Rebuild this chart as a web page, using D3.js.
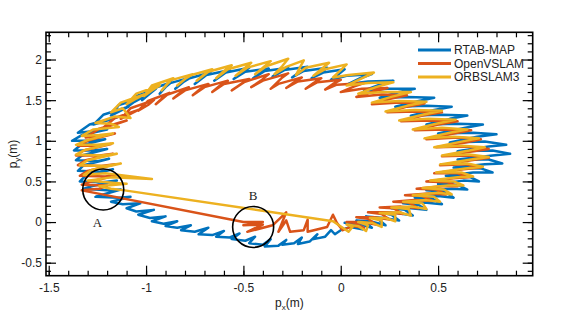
<!DOCTYPE html>
<html>
<head>
<meta charset="utf-8">
<script src="https://cdn.jsdelivr.net/npm/d3@7"></script>
<style>
  body { margin: 0; background: #fff; }
  text { font-family: "Liberation Sans", Arial, sans-serif; }
</style>
</head>
<body>
<div id="chart-container"></div>
<script>
// series names, in legend order
const seriesNames = ['RTAB-MAP', 'OpenVSLAM', 'ORBSLAM3']

// trajectories [px, py] in metres
const rtabmap = [
  [0.00,-0.10],[0.05,-0.06],[0.11,-0.09],[0.07,-0.03],[0.02,-0.01],[0.09,-0.02],[0.16,-0.07],[0.13,-0.01],
  [0.08,0.02],[0.15,0.01],[0.23,-0.04],[0.19,0.04],[0.13,0.07],[0.22,0.05],[0.30,0.02],[0.26,0.09],
  [0.20,0.12],[0.29,0.11],[0.37,0.08],[0.33,0.15],[0.26,0.17],[0.36,0.17],[0.44,0.15],[0.40,0.21],
  [0.32,0.23],[0.43,0.24],[0.52,0.22],[0.47,0.29],[0.38,0.30],[0.50,0.32],[0.58,0.30],[0.54,0.37],
  [0.44,0.39],[0.57,0.41],[0.65,0.40],[0.60,0.46],[0.50,0.47],[0.63,0.51],[0.71,0.50],[0.66,0.56],
  [0.54,0.57],[0.68,0.61],[0.78,0.61],[0.72,0.66],[0.58,0.67],[0.74,0.71],[0.83,0.72],[0.76,0.77],
  [0.60,0.77],[0.78,0.82],[0.87,0.84],[0.78,0.88],[0.60,0.87],[0.76,0.93],[0.85,0.95],[0.74,0.99],
  [0.56,0.98],[0.70,1.05],[0.80,1.08],[0.68,1.10],[0.50,1.09],[0.64,1.16],[0.73,1.20],[0.60,1.21],
  [0.44,1.20],[0.56,1.27],[0.65,1.31],[0.52,1.32],[0.36,1.31],[0.48,1.38],[0.57,1.42],[0.44,1.43],
  [0.28,1.42],[0.40,1.49],[0.48,1.53],[0.34,1.54],[0.20,1.53],[0.30,1.60],[0.38,1.64],[0.24,1.64],
  [0.12,1.62],[0.20,1.69],[0.27,1.74],[0.14,1.73],[0.04,1.70],[0.10,1.77],[0.16,1.82],[0.03,1.80],
  [-0.05,1.75],[-0.01,1.82],[0.02,1.88],[-0.09,1.84],[-0.15,1.77],[-0.10,1.84],[-0.07,1.90],[-0.19,1.86],
  [-0.25,1.78],[-0.21,1.85],[-0.17,1.91],[-0.29,1.87],[-0.35,1.79],[-0.31,1.86],[-0.27,1.90],[-0.39,1.86],
  [-0.45,1.77],[-0.41,1.84],[-0.37,1.89],[-0.49,1.85],[-0.55,1.76],[-0.51,1.83],[-0.47,1.90],[-0.59,1.84],
  [-0.65,1.74],[-0.61,1.81],[-0.57,1.87],[-0.69,1.81],[-0.75,1.70],[-0.71,1.78],[-0.67,1.84],[-0.79,1.76],
  [-0.85,1.64],[-0.81,1.72],[-0.77,1.78],[-0.89,1.70],[-0.93,1.58],[-0.90,1.66],[-0.87,1.72],[-0.98,1.63],
  [-1.02,1.50],[-0.98,1.58],[-0.95,1.64],[-1.06,1.54],[-1.10,1.41],[-1.06,1.48],[-1.02,1.53],[-1.14,1.44],
  [-1.18,1.31],[-1.13,1.37],[-1.09,1.42],[-1.22,1.32],[-1.27,1.20],[-1.20,1.25],[-1.15,1.29],[-1.29,1.20],
  [-1.35,1.10],[-1.26,1.12],[-1.20,1.14],[-1.33,1.07],[-1.38,1.00],[-1.28,1.00],[-1.21,1.02],[-1.34,0.94],
  [-1.37,0.88],[-1.27,0.88],[-1.20,0.90],[-1.33,0.82],[-1.36,0.76],[-1.25,0.75],[-1.19,0.78],[-1.32,0.70],
  [-1.35,0.63],[-1.24,0.62],[-1.17,0.65],[-1.31,0.57],[-1.34,0.50],[-1.22,0.49],[-1.15,0.51],[-1.28,0.44],
  [-1.32,0.41],[-1.20,0.39],[-1.13,0.40],[-1.22,0.34],[-1.26,0.31],[-1.14,0.30],[-1.08,0.31],[-1.18,0.25],
  [-1.12,0.22],[-1.03,0.23],[-1.10,0.17],[-1.05,0.13],[-0.96,0.15],[-1.04,0.09],[-0.98,0.05],[-0.90,0.07],
  [-0.97,0.01],[-0.91,-0.02],[-0.84,0.01],[-0.90,-0.05],[-0.84,-0.07],[-0.77,-0.04],[-0.82,-0.10],[-0.75,-0.12],
  [-0.68,-0.07],[-0.73,-0.15],[-0.66,-0.16],[-0.60,-0.11],[-0.64,-0.18],[-0.57,-0.19],[-0.52,-0.14],[-0.56,-0.21],
  [-0.49,-0.23],[-0.44,-0.18],[-0.47,-0.26],[-0.40,-0.28],[-0.36,-0.21],[-0.39,-0.30],[-0.32,-0.29],[-0.28,-0.22],
  [-0.30,-0.28],[-0.24,-0.26],[-0.20,-0.19],[-0.22,-0.27],[-0.16,-0.24],[-0.12,-0.15],[-0.14,-0.21],[-0.08,-0.18],
  [-0.05,-0.10],[-0.03,-0.15],[0.00,-0.10]
]

const openvslam = [
  [0.01,-0.10],[0.06,-0.05],[0.12,-0.07],[0.07,-0.01],[0.03,0.00],[0.11,0.00],[0.18,-0.03],[0.14,0.04],
  [0.08,0.06],[0.17,0.06],[0.25,0.03],[0.21,0.10],[0.14,0.12],[0.24,0.12],[0.32,0.10],[0.27,0.17],
  [0.20,0.18],[0.31,0.19],[0.40,0.17],[0.35,0.24],[0.27,0.25],[0.38,0.27],[0.47,0.26],[0.42,0.32],
  [0.33,0.33],[0.45,0.35],[0.54,0.34],[0.49,0.40],[0.39,0.41],[0.52,0.44],[0.60,0.44],[0.55,0.49],
  [0.44,0.50],[0.58,0.54],[0.66,0.55],[0.60,0.60],[0.48,0.60],[0.63,0.65],[0.72,0.67],[0.64,0.71],
  [0.51,0.70],[0.67,0.76],[0.76,0.79],[0.66,0.82],[0.52,0.81],[0.68,0.87],[0.76,0.90],[0.64,0.93],
  [0.49,0.92],[0.64,0.98],[0.72,1.02],[0.60,1.04],[0.44,1.02],[0.58,1.09],[0.67,1.13],[0.54,1.14],
  [0.38,1.13],[0.50,1.20],[0.60,1.24],[0.46,1.25],[0.31,1.24],[0.42,1.31],[0.52,1.35],[0.38,1.36],
  [0.24,1.35],[0.34,1.42],[0.43,1.46],[0.30,1.47],[0.16,1.45],[0.26,1.52],[0.34,1.56],[0.21,1.57],
  [0.08,1.54],[0.17,1.61],[0.24,1.65],[0.11,1.64],[0.00,1.60],[0.07,1.67],[0.12,1.71],[-0.02,1.69],
  [-0.08,1.63],[-0.04,1.70],[0.00,1.75],[-0.12,1.72],[-0.18,1.64],[-0.14,1.71],[-0.10,1.77],[-0.22,1.73],
  [-0.28,1.65],[-0.24,1.72],[-0.20,1.78],[-0.32,1.70],[-0.36,1.64],[-0.30,1.78],[-0.27,1.83],[-0.40,1.74],
  [-0.46,1.66],[-0.41,1.74],[-0.37,1.82],[-0.50,1.72],[-0.56,1.62],[-0.51,1.70],[-0.47,1.76],[-0.60,1.70],
  [-0.66,1.60],[-0.62,1.68],[-0.58,1.74],[-0.70,1.66],[-0.76,1.56],[-0.72,1.64],[-0.68,1.70],[-0.80,1.62],
  [-0.86,1.52],[-0.82,1.60],[-0.78,1.66],[-0.90,1.56],[-0.95,1.45],[-0.91,1.53],[-0.88,1.59],[-0.99,1.49],
  [-1.04,1.37],[-0.99,1.44],[-0.96,1.50],[-1.08,1.40],[-1.13,1.27],[-1.08,1.33],[-1.04,1.38],[-1.16,1.28],
  [-1.22,1.16],[-1.15,1.21],[-1.10,1.25],[-1.24,1.15],[-1.31,1.04],[-1.22,1.06],[-1.16,1.09],[-1.29,1.01],
  [-1.35,0.94],[-1.25,0.94],[-1.18,0.96],[-1.32,0.88],[-1.36,0.82],[-1.24,0.82],[-1.17,0.84],[-1.31,0.76],
  [-1.35,0.70],[-1.23,0.69],[-1.16,0.71],[-1.30,0.63],[-1.34,0.57],[-1.21,0.56],[-1.15,0.58],[-1.28,0.50],
  [-1.33,0.46],[-1.20,0.45],[-1.24,0.41],[-1.33,0.39],
  [-0.50,0.00],[-0.40,0.00],[-0.50,-0.04],[-0.40,-0.03],[-0.48,-0.12],[-0.35,-0.04],[-0.28,0.12],[-0.32,-0.12],
  [-0.28,0.02],[-0.26,-0.12],[-0.19,-0.10],[-0.17,0.03],[-0.17,-0.12],[-0.07,-0.06],[-0.04,0.09],[-0.02,-0.01],
  [0.01,-0.10]
]

const orbslam3 = [
  [-0.04,0.01],[0.01,-0.07],[0.04,-0.12],[0.06,-0.06],[0.03,-0.03],[0.09,-0.05],[0.13,-0.11],[0.14,-0.04],
  [0.09,0.00],[0.16,-0.01],[0.21,-0.06],[0.21,0.02],[0.15,0.05],[0.23,0.05],[0.28,0.01],[0.28,0.09],
  [0.20,0.11],[0.30,0.12],[0.36,0.08],[0.35,0.16],[0.26,0.18],[0.37,0.19],[0.44,0.16],[0.42,0.23],
  [0.32,0.25],[0.44,0.27],[0.51,0.25],[0.48,0.31],[0.37,0.33],[0.50,0.36],[0.57,0.34],[0.53,0.40],
  [0.42,0.42],[0.55,0.45],[0.63,0.45],[0.58,0.50],[0.46,0.51],[0.60,0.55],[0.68,0.56],[0.62,0.61],
  [0.49,0.61],[0.64,0.66],[0.73,0.68],[0.65,0.72],[0.51,0.71],[0.67,0.77],[0.76,0.80],[0.66,0.83],
  [0.52,0.82],[0.66,0.88],[0.74,0.92],[0.62,0.94],[0.48,0.92],[0.62,0.99],[0.71,1.03],[0.58,1.05],
  [0.43,1.03],[0.56,1.10],[0.65,1.14],[0.52,1.16],[0.37,1.14],[0.49,1.21],[0.59,1.26],[0.45,1.27],
  [0.30,1.25],[0.42,1.32],[0.52,1.37],[0.38,1.38],[0.23,1.36],[0.34,1.43],[0.44,1.48],[0.30,1.49],
  [0.16,1.47],[0.26,1.54],[0.36,1.60],[0.22,1.60],[0.09,1.58],[0.18,1.66],[0.27,1.72],[0.14,1.71],
  [0.03,1.68],[0.10,1.76],[0.17,1.84],[0.04,1.81],[-0.04,1.78],[0.00,1.87],[0.03,1.94],[-0.08,1.88],
  [-0.14,1.80],[-0.10,1.88],[-0.06,1.96],[-0.18,1.90],[-0.23,1.81],[-0.21,1.90],[-0.19,1.99],[-0.28,1.91],
  [-0.34,1.82],[-0.30,1.92],[-0.27,2.01],[-0.38,1.92],[-0.44,1.82],[-0.40,1.90],[-0.36,1.98],[-0.48,1.90],
  [-0.54,1.80],[-0.50,1.88],[-0.46,1.96],[-0.58,1.88],[-0.64,1.77],[-0.60,1.86],[-0.56,1.93],[-0.68,1.85],
  [-0.74,1.74],[-0.70,1.82],[-0.66,1.88],[-0.78,1.80],[-0.84,1.68],[-0.80,1.76],[-0.76,1.82],[-0.88,1.74],
  [-0.92,1.62],[-0.89,1.70],[-0.86,1.77],[-0.97,1.68],[-1.01,1.55],[-0.97,1.62],[-0.93,1.68],[-1.05,1.58],
  [-1.10,1.45],[-1.05,1.52],[-1.01,1.57],[-1.13,1.47],[-1.18,1.35],[-1.12,1.40],[-1.08,1.28],[-1.16,1.30],
  [-1.22,1.25],[-1.26,1.22],[-1.18,1.21],[-1.14,1.17],[-1.27,1.14],[-1.33,1.06],[-1.24,1.07],[-1.17,1.09],
  [-1.30,1.01],[-1.36,0.95],[-1.25,0.95],[-1.17,0.97],[-1.31,0.89],[-1.36,0.83],[-1.23,0.82],[-1.15,0.84],
  [-1.30,0.76],[-1.34,0.70],[-1.21,0.69],[-1.13,0.72],[-1.28,0.64],[-1.32,0.58],[-1.21,0.60],[-0.97,0.53],
  [-1.18,0.55],[-1.30,0.51],[-1.16,0.48],[-1.10,0.47],[-1.24,0.44],[-1.18,0.41],[-1.11,0.39],[-0.04,0.01]
]

// circled regions and their letters
const marks = [
  { label: 'A', cx: -1.22, cy: 0.40, lx: -1.25, ly: 0.00 },
  { label: 'B', cx: -0.45, cy: -0.06, lx: -0.45, ly: 0.33 }
]

const xMajor = [-1.5, -1, -0.5, 0, 0.5]
const yMajor = [-0.5, 0, 0.5, 1, 1.5, 2]
const xMinor = d3.range(-15, 10).map(d => d / 10)
const yMinor = d3.range(-6, 24).map(d => d / 10)

const colors = ['#0072BD', '#D95319', '#EDB120']

function draw () {
  const width = 562
  const height = 320
  const margin = { left: 46, right: 29.3, top: 32.3, bottom: 44.3 }
  const w = width - margin.left - margin.right
  const h = height - margin.top - margin.bottom

  const svg = d3.select('#chart-container')
    .append('svg')
    .attr('width', width)
    .attr('height', height)

  const xScale = d3.scaleLinear().domain([-1.514, 0.986]).range([0, w])
  const yScale = d3.scaleLinear().domain([-0.66, 2.335]).range([h, 0])

  const g = svg.append('g').attr('transform', `translate(${margin.left},${margin.top})`)

  g.append('clipPath').attr('id', 'clip')
    .append('rect').attr('width', w).attr('height', h)

  const line = d3.line().x(d => xScale(d[0])).y(d => yScale(d[1]))

  const series = [rtabmap, openvslam, orbslam3]
  g.append('g').attr('clip-path', 'url(#clip)')
    .selectAll('path')
    .data(series)
    .enter()
    .append('path')
    .attr('d', line)
    .attr('fill', 'none')
    .attr('stroke', (d, i) => colors[i])
    .attr('stroke-width', 2.5)
    .attr('stroke-linejoin', 'round')
    .attr('stroke-linecap', 'round')

  // axes: major ticks with labels, minor ticks, mirrored on top/right
  const fmt = d => String(d)
  const styleAxis = sel => {
    sel.select('.domain').remove()
    sel.selectAll('line').attr('stroke', '#000').attr('stroke-width', 1.2)
    sel.selectAll('text').attr('fill', '#222').style('font-size', '12px')
  }

  g.append('g').attr('transform', `translate(0,${h})`)
    .call(d3.axisBottom(xScale).tickValues(xMajor).tickFormat(fmt).tickSize(-10).tickPadding(8))
    .call(styleAxis)
  g.append('g').attr('transform', `translate(0,${h})`)
    .call(d3.axisBottom(xScale).tickValues(xMinor).tickFormat('').tickSize(-5))
    .call(styleAxis)
  g.append('g')
    .call(d3.axisTop(xScale).tickValues(xMajor).tickFormat('').tickSize(-10))
    .call(styleAxis)
  g.append('g')
    .call(d3.axisTop(xScale).tickValues(xMinor).tickFormat('').tickSize(-5))
    .call(styleAxis)

  g.append('g')
    .call(d3.axisLeft(yScale).tickValues(yMajor).tickFormat(fmt).tickSize(-10).tickPadding(4))
    .call(styleAxis)
  g.append('g')
    .call(d3.axisLeft(yScale).tickValues(yMinor).tickFormat('').tickSize(-5))
    .call(styleAxis)
  g.append('g').attr('transform', `translate(${w},0)`)
    .call(d3.axisRight(yScale).tickValues(yMajor).tickFormat('').tickSize(-10))
    .call(styleAxis)
  g.append('g').attr('transform', `translate(${w},0)`)
    .call(d3.axisRight(yScale).tickValues(yMinor).tickFormat('').tickSize(-5))
    .call(styleAxis)

  g.append('rect')
    .attr('width', w).attr('height', h)
    .attr('fill', 'none').attr('stroke', '#000').attr('stroke-width', 1.6)

  // axis labels
  const xl = svg.append('text')
    .attr('x', margin.left + w / 2).attr('y', 307)
    .attr('text-anchor', 'middle').attr('fill', '#222').style('font-size', '12px')
  xl.append('tspan').text('p')
  xl.append('tspan').text('x').style('font-size', '8px').attr('dy', 3)
  xl.append('tspan').text('(m)').attr('dy', -3)

  const yl = svg.append('text')
    .attr('transform', `translate(17,${margin.top + h / 2}) rotate(-90)`)
    .attr('text-anchor', 'middle').attr('fill', '#222').style('font-size', '12px')
  yl.append('tspan').text('p')
  yl.append('tspan').text('y').style('font-size', '8px').attr('dy', 3)
  yl.append('tspan').text('(m)').attr('dy', -3)

  // circled regions
  g.selectAll('circle.mark')
    .data(marks)
    .enter()
    .append('circle')
    .attr('class', 'mark')
    .attr('cx', d => xScale(d.cx))
    .attr('cy', d => yScale(d.cy))
    .attr('r', 20.5)
    .attr('fill', 'none')
    .attr('stroke', '#000')
    .attr('stroke-width', 1.6)

  g.selectAll('text.mark')
    .data(marks)
    .enter()
    .append('text')
    .attr('class', 'mark')
    .attr('x', d => xScale(d.lx))
    .attr('y', d => yScale(d.ly))
    .attr('dy', '0.35em')
    .attr('text-anchor', 'middle')
    .style('font-family', '"Liberation Serif", "Times New Roman", serif')
    .style('font-size', '13px')
    .attr('fill', '#222')
    .text(d => d.label)

  // legend
  const legend = svg.append('g').attr('transform', 'translate(418,50)')
  const item = legend.selectAll('g')
    .data(seriesNames)
    .enter()
    .append('g')
    .attr('transform', (d, i) => `translate(0,${i * 13.5})`)
  item.append('line')
    .attr('x1', 0).attr('x2', 33)
    .attr('stroke', (d, i) => colors[i])
    .attr('stroke-width', 3)
  item.append('text')
    .attr('x', 36).attr('dy', '0.35em')
    .attr('fill', '#222').style('font-size', '12px')
    .text(d => d)
}

draw()
</script>
</body>
</html>
